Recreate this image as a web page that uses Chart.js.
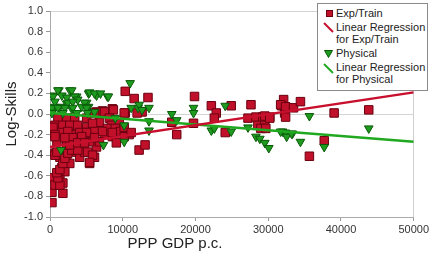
<!DOCTYPE html>
<html>
<head>
<meta charset="utf-8">
<script src="https://cdn.jsdelivr.net/npm/chart.js@4.4.1/dist/chart.umd.min.js"></script>
<style>
  html, body { margin: 0; padding: 0; background: #fff; }
  #wrap { position: relative; width: 431px; height: 257px; }
  #legend { position: absolute; left: 317px; top: 3px; width: 109px; height: 86px; border: 1px solid #8a8a8a; background: #fff; font-family: "Liberation Sans", Arial, sans-serif; font-size: 11px; color: #222; }
  .lt { position: absolute; left: 18px; white-space: nowrap; line-height: 12px; }
  .mk { position: absolute; }
</style>
</head>
<body>
<div id="wrap">
  <canvas id="c" width="431" height="257"></canvas>
  <div id="legend">
    <div class="mk" style="left:8px;top:6px;width:5px;height:5px;background:#c0102a;border:1px solid #6a0010;"></div>
    <div class="lt" style="top:3px;">Exp/Train</div>
    <svg class="mk" style="left:5px;top:18px;" width="11" height="11"><line x1="1" y1="1" x2="10" y2="10" stroke="#c8102e" stroke-width="2"/></svg>
    <div class="lt" style="top:17px;">Linear Regression</div>
    <div class="lt" style="top:29px;">for Exp/Train</div>
    <svg class="mk" style="left:6px;top:46px;" width="9" height="8"><polygon points="0.5,0.5 8.5,0.5 4.5,7.5" fill="#1e9a1e" stroke="#0a5a0a" stroke-width="1"/></svg>
    <div class="lt" style="top:43px;">Physical</div>
    <svg class="mk" style="left:5px;top:59px;" width="11" height="11"><line x1="1" y1="1" x2="10" y2="10" stroke="#22aa22" stroke-width="2"/></svg>
    <div class="lt" style="top:57px;">Linear Regression</div>
    <div class="lt" style="top:69px;">for Physical</div>
  </div>
</div>
<script>
// ---- data ----
const expTrainX = [10340,11570,13470,8570,7210,6400,10340,12660,19870,22180,22860,22590,24910,27630,16740,19730,27220,28310,29260,30210,32120,32260,31850,32260,17420,24090,28580,29530,28990,29670,31710,32390,33480,34430,29530,30210,32390,39060,43820,37700,35660,
  7490,8710,10200,11980,6800,8170,8440,9530,7890,8980,9660,7490,8570,10890,10200,
  1090,2310,3400,5040,6120,680,1770,2720,3810,5040,5850,680,1630,2990,4080,5170,6120,
  410,680,950,2450,3130,680,1360,2310,2720,1630,2040,950,410,1360,1770,270,1770,270,3670,4080,4760,5440,6120,6400,5440,6800,4080,8570,10200,11160,12250,13070,9120,7210,5040,4360,
  680,1360,1090,950,1360,1770,680,950,2040,2450,2990,3810,5170,5850,5440,2310,2720,3810,4760,680,2040,6120];
const expTrainY = [0.22,0.15,0.16,0.05,0.03,0.02,0.01,0.02,0.17,0.08,0.01,-0.04,0.08,0.09,-0.08,-0.09,-0.04,-0.03,-0.03,-0.03,0.14,0.07,0.08,0.01,-0.20,-0.18,-0.11,-0.11,-0.14,-0.14,0.09,0.07,0.06,0.12,-0.02,-0.04,-0.03,0.01,0.04,-0.26,-0.41,
  0.02,0.04,0.01,0.01,-0.08,-0.04,-0.11,-0.09,-0.14,-0.14,-0.17,-0.20,-0.22,-0.20,-0.22,
  -0.04,-0.04,-0.04,-0.04,0.01,-0.11,-0.11,-0.11,-0.11,-0.13,-0.09,-0.18,-0.18,-0.20,-0.18,-0.18,-0.17,
  -0.13,-0.20,-0.27,-0.17,-0.23,-0.38,-0.42,-0.40,-0.48,-0.52,-0.56,-0.59,-0.62,-0.64,-0.67,-0.76,-0.77,-0.86,-0.37,-0.42,-0.37,-0.48,-0.42,-0.32,-0.27,-0.27,-0.28,-0.18,-0.13,-0.18,-0.35,-0.30,-0.28,-0.17,-0.18,-0.22,
  -0.69,-0.69,-0.62,-0.57,-0.54,-0.48,-0.40,-0.37,-0.43,-0.38,-0.35,-0.35,-0.37,-0.40,-0.47,-0.30,-0.30,-0.28,-0.28,-0.22,-0.23,-0.23];
const physicalX = [410,1220,1630,2720,3670,5310,6400,7890,11020,680,1360,2310,2990,5040,5310,12110,11160,
  1090,2990,410,2310,3400,3810,680,2450,3130,4760,5440,6120,270,1090,2040,3130,4360,5040,6120,270,1770,3670,5170,
  6940,8030,12250,12660,13610,10200,13610,8980,7350,10200,1500,
  16740,17420,19730,19730,13610,22180,22590,24910,24090,27220,28310,28850,29530,30080,35660,43820,31980,32390,32530,33340,34430,37700,31710,33210];
const physicalY = [0.18,0.23,0.18,0.23,0.17,0.20,0.18,0.17,0.30,0.07,0.07,0.10,0.05,0.11,0.07,0.06,0.06,
  0.23,0.23,0.17,0.16,0.17,0.14,0.12,0.11,0.12,0.11,0.21,0.20,0.06,0.06,0.06,0.06,0.07,0.06,0.02,0.01,0.01,0.01,0.01,
  0.20,0.17,0.09,0.04,0.06,-0.11,-0.16,-0.04,-0.30,-0.27,-0.35,
  0.00,-0.06,0.06,0.01,-0.07,-0.16,-0.14,-0.17,0.08,-0.13,-0.22,-0.24,-0.28,-0.33,-0.02,-0.14,-0.17,-0.18,-0.22,-0.19,-0.27,-0.32,-0.17,-0.19];
const regX = [0, 50000];
const expRegY = [-0.32, 0.21];
const physRegY = [0.01, -0.27];
const yTicks = [-1.0,-0.8,-0.6,-0.4,-0.2,0.0,0.2,0.4,0.6,0.8,1.0];
const xTicks = [0,10000,20000,30000,40000,50000];
const xTitle = 'PPP GDP p.c.';
const yTitle = 'Log-Skills';
const seriesNames = ['Exp/Train','Linear Regression for Exp/Train','Physical','Linear Regression for Physical'];

const pts = (xs, ys) => xs.map((x, i) => ({x: x, y: ys[i]}));
const FONT = '"Liberation Sans", Arial, sans-serif';

const xTitlePlugin = {
  id: 'xTitle',
  afterDraw(chart) {
    const ctx = chart.ctx;
    ctx.save();
    ctx.font = '15px ' + FONT;
    ctx.fillStyle = '#222';
    ctx.textAlign = 'center';
    ctx.textBaseline = 'middle';
    ctx.fillText(xTitle, 175, 244);
    ctx.restore();
  }
};

new Chart(document.getElementById('c'), {
  type: 'scatter',
  data: {
    datasets: [
      { label: seriesNames[1], data: pts(regX, expRegY), showLine: true, borderColor: '#c8102e', borderWidth: 2.5, pointRadius: 0, order: 0 },
      { label: seriesNames[3], data: pts(regX, physRegY), showLine: true, borderColor: '#20a820', borderWidth: 2.5, pointRadius: 0, order: 0 },
      { label: seriesNames[2], data: pts(physicalX, physicalY), pointStyle: 'triangle', rotation: 180, pointRadius: 5, backgroundColor: '#1e9a1e', borderColor: '#0a5a0a', borderWidth: 1, order: 1 },
      { label: seriesNames[0], data: pts(expTrainX, expTrainY), pointStyle: 'rect', pointRadius: 6, backgroundColor: '#c0102a', borderColor: '#6a0010', borderWidth: 1, order: 2 }
    ]
  },
  options: {
    responsive: false,
    animation: false,
    devicePixelRatio: 1,
    layout: { padding: { left: 0, right: 14, top: 11, bottom: 0 } },
    plugins: { legend: { display: false }, tooltip: { enabled: false } },
    scales: {
      x: {
        type: 'linear', min: 0, max: 50000,
        afterBuildTicks: (s) => { s.ticks = xTicks.map(v => ({value: v})); },
        afterFit: (s) => { s.height = 40; },
        ticks: { callback: (v) => String(v), font: { size: 11, family: FONT }, color: '#333', padding: 2, maxRotation: 0 },
        grid: { color: (c) => (c.tick && c.tick.value === 50000) ? '#cfcfcf' : 'rgba(0,0,0,0)', tickColor: '#999', tickLength: 4, lineWidth: 1 },
        border: { display: true, color: '#aaa' },
        title: { display: false }
      },
      y: {
        type: 'linear', min: -1, max: 1,
        afterBuildTicks: (s) => { s.ticks = yTicks.map(v => ({value: v})); },
        afterFit: (s) => { s.width = 50; },
        ticks: { callback: (v) => Number(v).toFixed(1), font: { size: 11, family: FONT }, color: '#333', padding: 3 },
        grid: { color: (c) => (c.tick && (Math.abs(c.tick.value) < 1e-9 || Math.abs(c.tick.value - 1) < 1e-9)) ? '#d4d4d4' : 'rgba(0,0,0,0)', tickColor: '#999', tickLength: 4, lineWidth: 1 },
        border: { display: true, color: '#aaa' },
        title: { display: true, text: yTitle, font: { size: 15, family: FONT }, color: '#222', padding: { top: 3, bottom: 0 } }
      }
    }
  },
  plugins: [xTitlePlugin]
});
</script>
</body>
</html>
